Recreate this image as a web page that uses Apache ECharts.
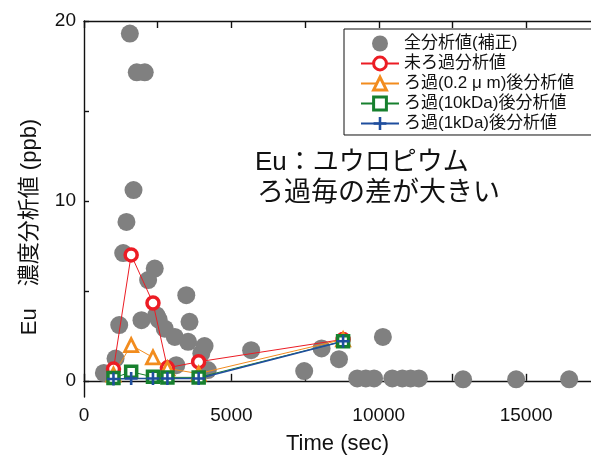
<!DOCTYPE html>
<html>
<head>
<meta charset="utf-8">
<script src="https://cdn.jsdelivr.net/npm/echarts@6/dist/echarts.min.js"></script>
<style>
html,body{margin:0;padding:0;background:#fff;}
#c{width:591px;height:462px;}
</style>
</head>
<body>
<div id="c"></div>
<script>
// ---- data ----
const totalTime = [675,1070,1195,1330,1440,1555,1680,1790,1950,2060,2175,2400,2455,2535,2740,3080,3130,3470,3530,3580,3980,4090,4200,5670,7470,8060,8650,10140,9270,9560,9840,10460,10800,11080,11360,12860,14660,16460];
const totalConc = [0.44,1.24,3.1,7.1,8.83,19.3,10.6,17.15,3.37,17.15,5.6,6.24,3.65,3.4,2.9,2.44,0.87,4.76,2.17,3.28,1.52,1.93,0.6,1.7,0.54,1.8,1.2,2.44,0.13,0.13,0.13,0.13,0.13,0.13,0.13,0.08,0.08,0.08];
const filterTime = [1000,1600,2340,2830,3890,8790];
const unfiltered = [0.65,7.0,4.33,0.72,1.06,2.3];
const filt02um = [0.35,1.98,1.3,0.69,0.4,2.3];
const filt10kDa = [0.15,0.5,0.22,0.19,0.19,2.2];
const filt1kDa = [0.1,0.13,0.13,0.13,0.13,2.2];
const seriesNames = ['全分析値(補正)','未ろ過分析値','ろ過(0.2 μ m)後分析値','ろ過(10kDa)後分析値','ろ過(1kDa)後分析値'];
const xLabelValues = [0,5000,10000,15000];
const xTickValues = [0,2500,5000,7500,10000,12500,15000];
const yLabelValues = [0,10,20];
const yTickValues = [0,5,10,15,20];

const pairs = (xs, ys) => xs.map((x, i) => [x, ys[i]]);
const LAT = '"Liberation Sans", Arial, "Noto Sans CJK JP", sans-serif';
const plusPath = 'path://M4,0H6V4H10V6H6V10H4V6H0V4H4Z';

const chart = echarts.init(document.getElementById('c'), null, {renderer: 'canvas'});
const axisLine = {show: true, lineStyle: {color: '#111', width: 1.4}};
chart.setOption({
  animation: false,
  backgroundColor: '#fff',
  grid: {left: 84, right: 0, top: 21, bottom: 65, outerBoundsMode: 'none'},
  xAxis: [{
    type: 'value', position: 'bottom', min: 0, max: 17200,
    axisLine: axisLine,
    splitLine: {show: false},
    axisTick: {show: true, inside: true, length: 7, customValues: xTickValues, lineStyle: {color: '#111', width: 1.4}},
    axisLabel: {customValues: xLabelValues, color: '#111', fontSize: 19, fontFamily: LAT, margin: 9,
                formatter: v => String(v)},
    name: 'Time (sec)', nameLocation: 'middle', nameGap: 36,
    nameTextStyle: {fontSize: 22, fontFamily: LAT, color: '#111'}
  }, {
    type: 'value', position: 'top', min: 0, max: 17200,
    axisLine: axisLine,
    splitLine: {show: false},
    axisTick: {show: true, inside: true, length: 7, customValues: xTickValues, lineStyle: {color: '#111', width: 1.4}},
    axisLabel: {show: false}
  }],
  yAxis: [{
    type: 'value', min: -0.9, max: 20,
    axisLine: axisLine,
    splitLine: {show: false},
    axisTick: {show: true, inside: true, length: 5, customValues: yTickValues, lineStyle: {color: '#111', width: 1.4}},
    axisLabel: {customValues: yLabelValues, color: '#111', fontSize: 19, fontFamily: LAT, margin: 8,
                formatter: v => String(v)}
  }],
  legend: {
    orient: 'vertical', left: 344, top: 29,
    padding: [6, 80, 3, 16],
    itemWidth: 38, itemHeight: 16, itemGap: 3,
    borderColor: '#111', borderWidth: 1, backgroundColor: '#fff',
    textStyle: {fontSize: 17, color: '#111', fontFamily: LAT},
    data: seriesNames.map((n, i) => i === 0 ? {name: n} : {name: n, itemStyle: {borderWidth: 3}})
  },
  graphic: [
    {type: 'text', x: 30, y: 227, rotation: Math.PI / 2,
     style: {text: 'Eu\u3000濃度分析値 (ppb)', align: 'center', verticalAlign: 'middle', fill: '#111', font: '22px ' + LAT}},
    {type: 'text', x: 255, y: 163,
     style: {text: 'Eu：ユウロピウム', align: 'left', verticalAlign: 'middle', fill: '#111', font: '26px ' + LAT}},
    {type: 'text', x: 257, y: 194,
     style: {text: 'ろ過毎の差が大きい', align: 'left', verticalAlign: 'middle', fill: '#111', font: '27px ' + LAT}}
  ],
  series: [
    {name: seriesNames[0], type: 'scatter', data: pairs(totalTime, totalConc),
     symbol: 'circle', symbolSize: 18, itemStyle: {color: '#808080', opacity: 1}},
    {name: seriesNames[1], type: 'line', data: pairs(filterTime, unfiltered),
     symbol: 'circle', symbolSize: 12, showSymbol: true,
     lineStyle: {color: '#ec1c24', width: 1},
     itemStyle: {color: '#fff', borderColor: '#ec1c24', borderWidth: 3.5}},
    {name: seriesNames[2], type: 'line', data: pairs(filterTime, filt02um),
     symbol: 'triangle', symbolSize: 13, showSymbol: true,
     lineStyle: {color: '#f28c1e', width: 1},
     itemStyle: {color: '#fff', borderColor: '#f28c1e', borderWidth: 2.8}},
    {name: seriesNames[3], type: 'line', data: pairs(filterTime, filt10kDa),
     symbol: 'rect', symbolSize: 11, showSymbol: true,
     lineStyle: {color: '#17802e', width: 1},
     itemStyle: {color: '#fff', borderColor: '#17802e', borderWidth: 3.5}},
    {name: seriesNames[4], type: 'line', data: pairs(filterTime, filt1kDa),
     symbol: plusPath, symbolSize: 13, showSymbol: true,
     lineStyle: {color: '#1f4e9e', width: 1.5}, itemStyle: {color: '#1f4e9e'}}
  ]
});
</script>
</body>
</html>
